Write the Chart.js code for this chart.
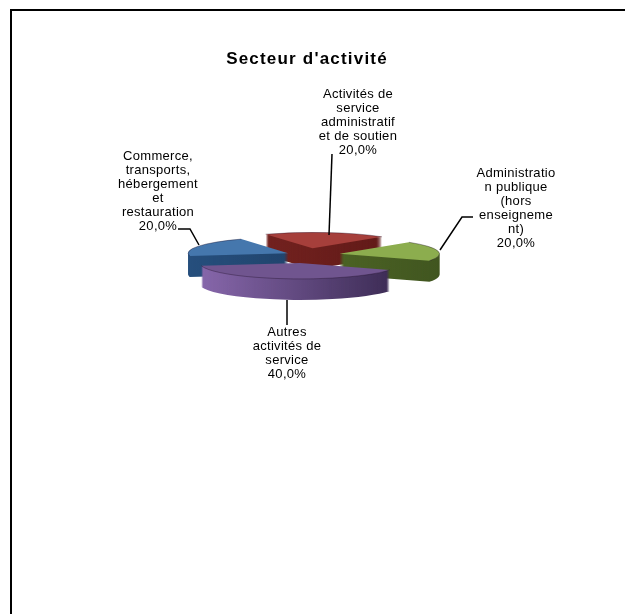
<!DOCTYPE html>
<html>
<head>
<meta charset="utf-8">
<title>Secteur d'activité</title>
<script src="https://cdn.jsdelivr.net/npm/chart.js@4"></script>
<style>
  html, body { margin: 0; padding: 0; background: #fff; }
  #wrap { position: relative; width: 625px; height: 614px; overflow: hidden; }
  #frame { position: absolute; left: 10px; top: 9px; width: 640px; height: 640px; border: 2px solid #000; }
  canvas { position: absolute; left: 0; top: 0; }
</style>
</head>
<body>
<div id="wrap">
  <div id="frame"></div>
  <canvas id="pie" width="625" height="614"></canvas>
</div>
<script>
const chartTitle = "Secteur d'activité";
const categories = [
  ["Activités de", "service", "administratif", "et de soutien"],
  ["Administratio", "n publique", "(hors", "enseigneme", "nt)"],
  ["Autres", "activités de", "service"],
  ["Commerce,", "transports,", "hébergement", "et", "restauration"]
];
const seriesValues = [20, 20, 40, 20];

// colours, same order as the categories
const topColors = ["#a63f3b", "#8cad4e", "#70558f", "#4577ad"];
const sideLight = ["#7a2522", "#566f28", "#8767ab", "#264f7d"];
const sideDark = ["#5e1917", "#415620", "#3a2a52", "#1c3a5e"];
const sliceOffsets = [40, 33, 52, 21];   // explosion, before the squash
const paintOrder = [0, 3, 1, 2];         // back to front

const squash = 0.16;
const depth = 21;

// where the labels sit, and their leader lines
const labelSpots = [
  { x: 358, y: 94, leader: [[332, 154], [329, 235]] },
  { x: 516, y: 173, leader: [[473, 217], [462, 217], [440, 250]] },
  { x: 287, y: 332, leader: [[287, 300], [287, 325]] },
  { x: 158, y: 156, leader: [[178, 229], [190, 229], [199, 245]] }
];

function percentText(i) {
  const total = seriesValues.reduce((a, b) => a + b, 0);
  return (seriesValues[i] / total * 100).toFixed(1).replace(".", ",") + "%";
}

const pie3d = {
  id: "pie3d",
  beforeDraw(chart) {
    // stays on for the title, which has no option for it
    chart.ctx.letterSpacing = "1.2px";
  },
  beforeDatasetDraw(chart, args) {
    const ctx = chart.ctx;
    const arcs = chart.getDatasetMeta(args.index).data;

    paintOrder.forEach(i => {
      const arc = arcs[i];
      const off = sliceOffsets[i];
      const mid = (arc.startAngle + arc.endAngle) / 2;
      const ox = arc.x + Math.cos(mid) * off;
      const oy = arc.y + Math.sin(mid) * off;
      const r = arc.outerRadius;

      const grad = ctx.createLinearGradient(ox - r, 0, ox + r, 0);
      grad.addColorStop(0, sideLight[i]);
      grad.addColorStop(1, sideDark[i]);

      // walls, stacked from the bottom up
      ctx.save();
      ctx.filter = "blur(0.6px)";
      for (let k = depth; k > 0; k--) {
        ctx.save();
        ctx.translate(0, arc.y + k);
        ctx.scale(1, squash);
        ctx.translate(0, -arc.y);
        ctx.beginPath();
        ctx.moveTo(ox, oy);
        ctx.arc(ox, oy, r, arc.startAngle, arc.endAngle);
        ctx.closePath();
        ctx.fillStyle = grad;
        ctx.fill();
        ctx.restore();
      }
      // top face
      ctx.save();
      ctx.translate(0, arc.y);
      ctx.scale(1, squash);
      ctx.translate(ox - arc.x, oy - 2 * arc.y);
      arc.draw(ctx);
      ctx.restore();
      // thin dark rim round the front of the top face
      ctx.save();
      ctx.translate(0, arc.y);
      ctx.scale(1, squash);
      ctx.translate(0, -arc.y);
      ctx.beginPath();
      ctx.arc(ox, oy, r, arc.startAngle, arc.endAngle);
      ctx.restore();
      ctx.strokeStyle = "rgba(30,15,40,0.4)";
      ctx.lineWidth = 0.9;
      ctx.stroke();
      ctx.restore();
    });
    return false;
  },
  afterDatasetsDraw(chart) {
    const ctx = chart.ctx;
    ctx.save();
    ctx.letterSpacing = "0.3px";
    ctx.strokeStyle = "#000";
    ctx.lineWidth = 1.5;
    labelSpots.forEach(spot => {
      ctx.beginPath();
      spot.leader.forEach((p, n) => n ? ctx.lineTo(p[0], p[1]) : ctx.moveTo(p[0], p[1]));
      ctx.stroke();
    });
    ctx.fillStyle = "#000";
    ctx.font = "13px 'Liberation Sans'";
    ctx.textAlign = "center";
    ctx.textBaseline = "middle";
    categories.forEach((lines, i) => {
      const spot = labelSpots[i];
      lines.concat(percentText(i)).forEach((line, n) => {
        ctx.fillText(line, spot.x, spot.y + n * 14);
      });
    });
    ctx.restore();
  }
};

new Chart(document.getElementById("pie"), {
  type: "pie",
  data: {
    labels: categories.map(c => c.join(" ")),
    datasets: [{
      data: seriesValues,
      backgroundColor: topColors,
      borderWidth: 0
    }]
  },
  plugins: [pie3d],
  options: {
    responsive: false,
    animation: false,
    rotation: -28,
    radius: 100,
    layout: { padding: { left: 0, right: 11, top: 0, bottom: 174 } },
    plugins: {
      legend: { display: false },
      tooltip: { enabled: false },
      title: {
        display: true,
        text: chartTitle,
        color: "#000",
        font: { family: "'Liberation Sans'", size: 17, weight: "bold" },
        padding: { top: 49, bottom: 0 }
      }
    }
  }
});
</script>
</body>
</html>
